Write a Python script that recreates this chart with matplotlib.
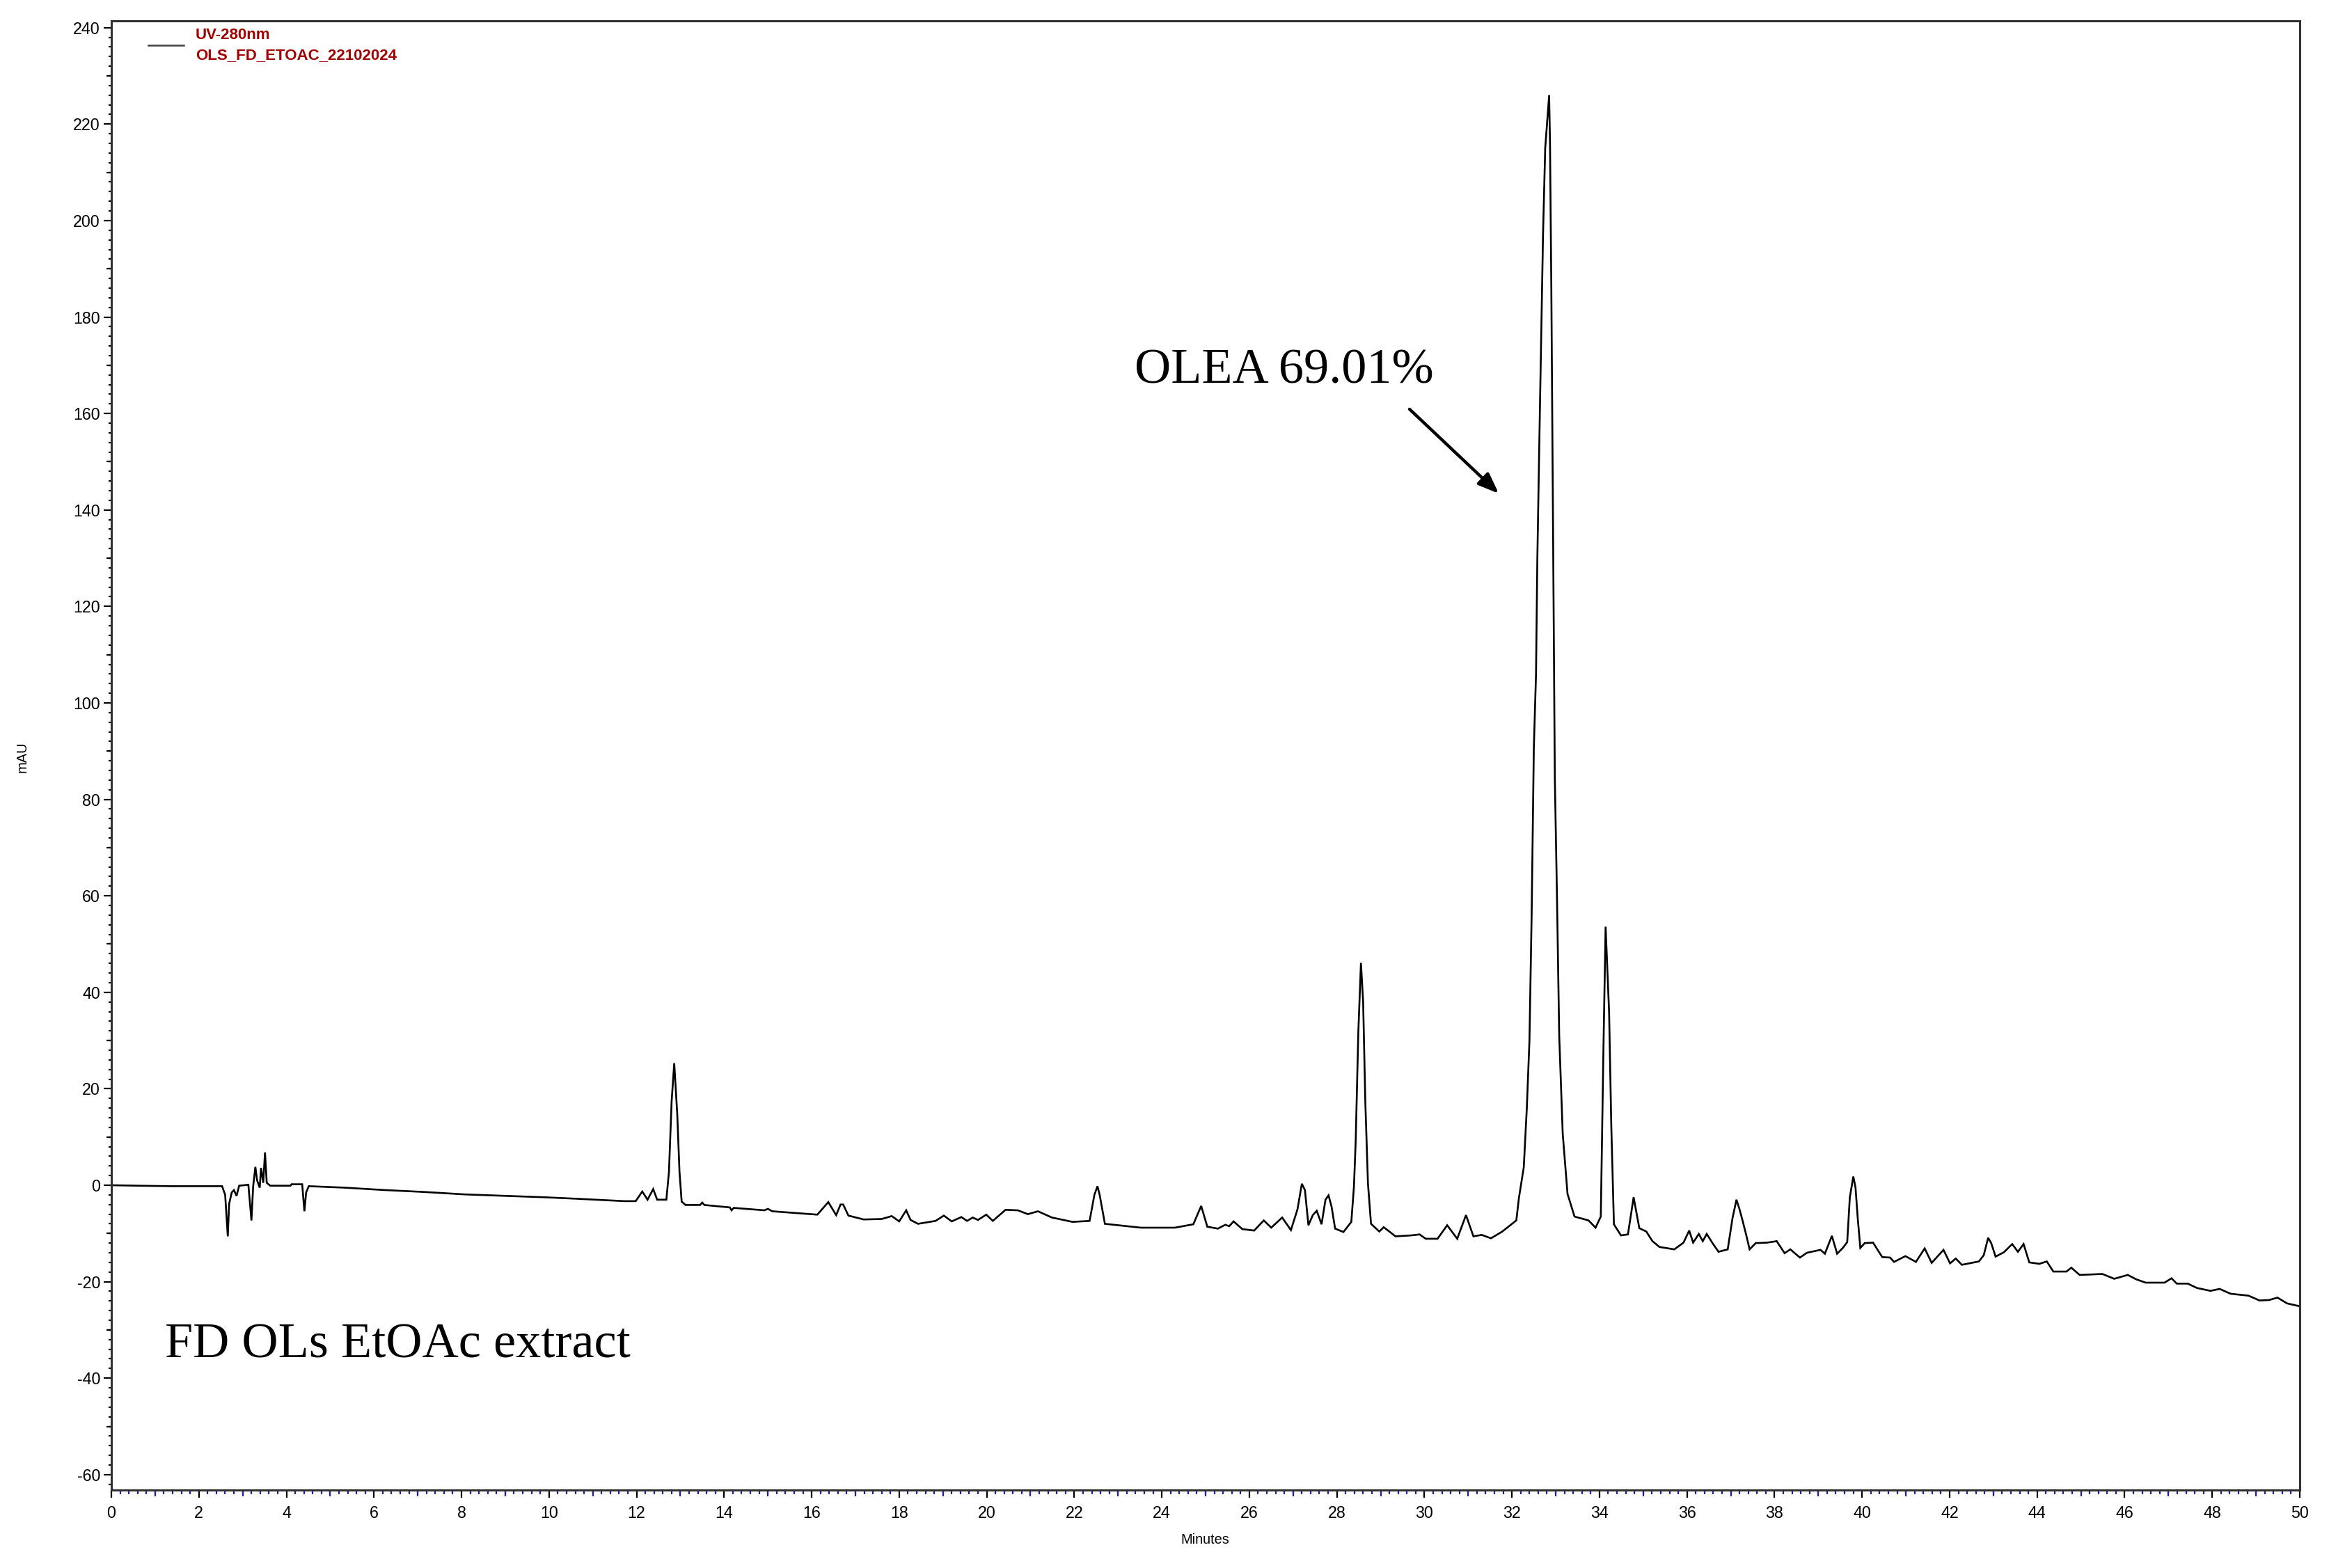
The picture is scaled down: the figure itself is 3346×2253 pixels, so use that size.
import matplotlib
matplotlib.use("Agg")
import matplotlib.pyplot as plt
from matplotlib.ticker import MultipleLocator, NullLocator, FixedLocator
from matplotlib.lines import Line2D

# ---------------- data ----------------
time_min = [
    0.00, 0.62, 1.39, 2.53, 2.60, 2.66, 2.69, 2.75, 2.80, 2.86, 2.92, 3.13, 3.20, 3.24,
    3.29, 3.33, 3.39, 3.42, 3.47, 3.51, 3.55, 3.63, 4.09, 4.12, 4.36, 4.41, 4.45, 4.51,
    5.32, 6.24, 7.15, 8.07, 8.98, 9.90, 10.62, 11.72, 11.98, 12.13, 12.25, 12.38, 12.47,
    12.68, 12.74, 12.80, 12.86, 12.93, 12.98, 13.03, 13.12, 13.45, 13.50, 13.55, 14.13,
    14.17, 14.22, 14.92, 15.00, 15.10, 15.70, 16.13, 16.38, 16.56, 16.66, 16.72, 16.84,
    17.19, 17.60, 17.83, 18.00, 18.16, 18.26, 18.43, 18.83, 19.02, 19.20, 19.42, 19.55,
    19.68, 19.80, 19.99, 20.14, 20.43, 20.71, 20.94, 21.17, 21.49, 21.96, 22.35, 22.46,
    22.53, 22.58, 22.70, 23.52, 24.30, 24.72, 24.90, 25.04, 25.28, 25.45, 25.54, 25.64,
    25.84, 26.11, 26.33, 26.50, 26.75, 26.95, 27.10, 27.20, 27.27, 27.35, 27.45, 27.54,
    27.65, 27.74, 27.81, 27.88, 27.96, 28.15, 28.33, 28.39, 28.43, 28.49, 28.55, 28.60,
    28.65, 28.71, 28.78, 28.97, 29.07, 29.34, 29.70, 29.89, 30.03, 30.30, 30.52, 30.75,
    30.95, 31.12, 31.31, 31.52, 31.78, 32.10, 32.16, 32.27, 32.34, 32.40, 32.45, 32.50,
    32.55, 32.58, 32.63, 32.71, 32.76, 32.85, 32.87, 32.90, 32.95, 32.98, 33.03, 33.08,
    33.16, 33.27, 33.43, 33.75, 33.91, 34.03, 34.09, 34.14, 34.22, 34.27, 34.33, 34.49,
    34.65, 34.78, 34.91, 35.07, 35.21, 35.37, 35.71, 35.92, 36.05, 36.14, 36.27, 36.36,
    36.45, 36.59, 36.72, 36.93, 37.04, 37.13, 37.20, 37.28, 37.36, 37.43, 37.57, 37.83,
    38.05, 38.23, 38.36, 38.58, 38.74, 39.05, 39.15, 39.31, 39.43, 39.56, 39.66, 39.72,
    39.80, 39.85, 39.90, 39.96, 40.06, 40.25, 40.46, 40.64, 40.73, 40.99, 41.23, 41.43,
    41.59, 41.86, 42.01, 42.14, 42.28, 42.67, 42.78, 42.88, 42.95, 43.05, 43.24, 43.43,
    43.56, 43.69, 43.82, 44.05, 44.22, 44.37, 44.67, 44.78, 44.97, 45.49, 45.76, 46.07,
    46.26, 46.48, 46.91, 47.07, 47.19, 47.44, 47.65, 47.96, 48.17, 48.42, 48.83, 49.08,
    49.30, 49.49, 49.71, 50.00,
]
signal_mau = [
    0.0, -0.1, -0.2, -0.2, -2.0, -10.6, -3.9, -1.5, -1.0, -2.2, -0.1, 0.1, -7.3, -0.2,
    3.8, 1.0, -0.5, 3.6, 0.5, 6.8, 0.5, -0.1, -0.1, 0.2, 0.2, -5.4, -1.5, -0.2,
    -0.5, -1.0, -1.4, -1.9, -2.2, -2.5, -2.8, -3.3, -3.3, -1.3, -3.0, -0.8, -3.0,
    -3.0, 2.8, 17.3, 25.3, 14.6, 2.8, -3.4, -4.1, -4.1, -3.6, -4.1, -4.6,
    -5.2, -4.7, -5.2, -4.9, -5.4, -5.8, -6.1, -3.5, -6.2, -4.0, -4.0, -6.3,
    -7.1, -7.0, -6.4, -7.5, -5.2, -7.2, -8.0, -7.4, -6.3, -7.5, -6.6, -7.4,
    -6.7, -7.2, -6.1, -7.4, -5.1, -5.2, -6.0, -5.4, -6.7, -7.6, -7.4, -2.0,
    -0.2, -2.0, -8.0, -8.8, -8.8, -8.1, -4.3, -8.6, -9.0, -8.2, -8.5, -7.5,
    -9.1, -9.4, -7.3, -8.8, -6.7, -9.3, -5.0, 0.3, -1.0, -8.3, -6.2, -5.3,
    -8.1, -3.0, -2.1, -4.5, -9.0, -9.7, -7.6, -0.3, 9.1, 31.7, 46.1, 38.0,
    17.3, 0.4, -8.0, -9.6, -8.7, -10.6, -10.4, -10.2, -11.1, -11.1, -8.3, -11.1,
    -6.2, -10.6, -10.3, -11.0, -9.6, -7.3, -2.6, 3.7, 16.0, 30.0, 56.0, 90.6,
    106.0, 129.7, 156.3, 197.0, 215.0, 226.0, 215.8, 186.0, 122.0, 84.3, 59.3, 31.0,
    10.7, -1.8, -6.5, -7.3, -8.8, -6.5, 28.0, 53.6, 35.8, 12.3, -8.1, -10.4,
    -10.2, -2.5, -8.9, -9.6, -11.6, -12.8, -13.3, -11.9, -9.4, -11.9, -10.1, -11.6,
    -10.1, -12.1, -13.8, -13.3, -6.8, -3.0, -5.0, -7.7, -10.6, -13.3, -12.0, -11.9,
    -11.6, -14.1, -13.3, -15.0, -14.0, -13.4, -14.2, -10.5, -14.2, -13.0, -11.8, -2.5,
    1.8, -0.5, -6.8, -13.0, -12.0, -11.9, -14.9, -15.0, -15.9, -14.7, -15.9, -13.1,
    -16.1, -13.4, -16.2, -15.2, -16.5, -15.8, -14.5, -10.9, -12.0, -14.8, -13.9, -12.2,
    -13.8, -12.2, -16.0, -16.3, -15.8, -17.9, -17.9, -17.1, -18.6, -18.4, -19.4, -18.6,
    -19.5, -20.2, -20.2, -19.3, -20.4, -20.4, -21.3, -21.9, -21.5, -22.5, -22.9, -23.9,
    -23.8, -23.3, -24.5, -25.1,
]

legend_lines = ["UV-280nm", "OLS_FD_ETOAC_22102024"]
peak_label = "OLEA 69.01%"
sample_label = "FD OLs EtOAc extract"
x_label = "Minutes"
y_label = "mAU"

# ---------------- figure ----------------
W, H, DPI = 3346, 2253, 200
plt.rcParams['font.family'] = ['Liberation Sans', 'DejaVu Sans']
plt.rcParams['axes.unicode_minus'] = False
fig = plt.figure(figsize=(W / DPI, H / DPI), dpi=DPI)

left, right = 160 / W, 3304 / W
bottom, top = 1 - 2141 / H, 1 - 30 / H
ax = fig.add_axes([left, bottom, right - left, top - bottom])

ax.plot(time_min, signal_mau, color='black', lw=0.95, solid_joinstyle='miter')

ax.set_xlim(0, 50)
ax.set_ylim(-63.2, 241.4)

spine_col = '#303030'
for s in ax.spines.values():
    s.set_color(spine_col)
    s.set_linewidth(1.1)

# y ticks
ax.yaxis.set_major_locator(MultipleLocator(20))
ax.yaxis.set_minor_locator(MultipleLocator(2))
ax.tick_params(axis='y', which='major', length=4.0, width=0.8, color='black',
               labelsize=8.4, pad=1.8)
ax.tick_params(axis='y', which='minor', length=1.6, width=0.8, color='black')
# x ticks
ax.xaxis.set_major_locator(MultipleLocator(2))
ax.xaxis.set_minor_locator(MultipleLocator(0.2))
ax.tick_params(axis='x', which='major', length=4.0, width=0.8, color='black',
               labelsize=8.4, pad=4.0)
ax.tick_params(axis='x', which='minor', length=2.0, width=0.8, color='#2020a0')

# medium ticks (odd tens on y, odd integers on x)
secy = ax.secondary_yaxis('left')
secy.yaxis.set_major_locator(FixedLocator(list(range(-50, 241, 20))))
secy.yaxis.set_minor_locator(NullLocator())
secy.tick_params(axis='y', length=2.6, width=0.8, color='black', labelleft=False)
secy.spines['left'].set_visible(False)

secx = ax.secondary_xaxis('bottom')
secx.xaxis.set_major_locator(FixedLocator(list(range(1, 50, 2))))
secx.xaxis.set_minor_locator(NullLocator())
secx.tick_params(axis='x', length=3.2, width=0.8, color='#2020a0', labelbottom=False)
secx.spines['bottom'].set_visible(False)

# axis labels
fig.text(1731 / W, 1 - 2213 / H, x_label, ha='center', va='center', fontsize=7.2)
fig.text(32 / W, 1 - 1088 / H, y_label, ha='center', va='center', fontsize=7.2,
         rotation=90)

# legend block
fig.add_artist(Line2D([213 / W, 264 / W], [1 - 65 / H, 1 - 65 / H],
                      color='#404040', lw=0.9, transform=fig.transFigure))
fig.text(281 / W, 1 - 50 / H, legend_lines[0], ha='left', va='center',
         fontsize=8.0, fontweight='bold', color='#a00000')
fig.text(281 / W, 1 - 80 / H, legend_lines[1], ha='left', va='center',
         fontsize=8.0, fontweight='bold', color='#a00000')

# annotations
serif = ['Liberation Serif', 'DejaVu Serif']
ax.text(23.37, 168.8, peak_label, ha='left', va='center', fontsize=26,
        family=serif)
ax.annotate('', xy=(31.7, 143.4), xytext=(29.66, 160.9),
            arrowprops=dict(arrowstyle='-|>,head_length=0.9,head_width=0.35',
                            color='black', lw=1.6, shrinkA=0, shrinkB=0))
ax.text(1.23, -33.2, sample_label, ha='left', va='center', fontsize=26,
        family=serif)

fig.savefig('out.png', dpi=DPI)
